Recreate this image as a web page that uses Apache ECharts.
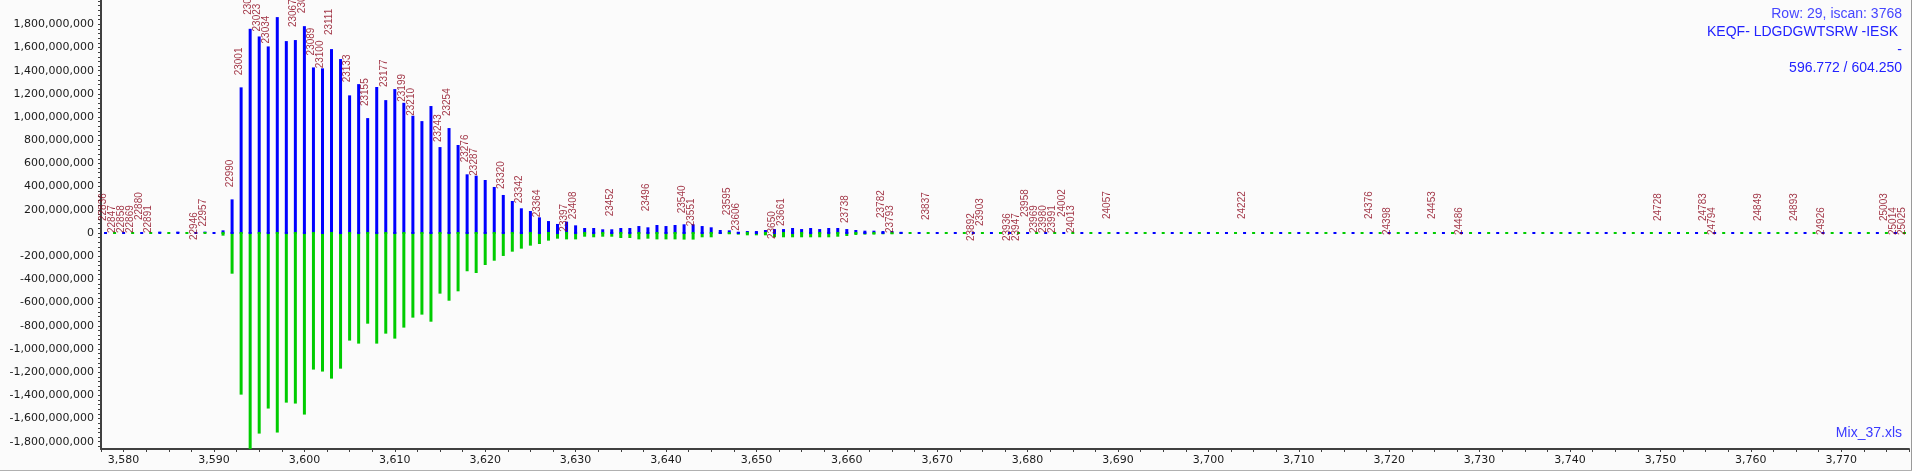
<!DOCTYPE html>
<html>
<head>
<meta charset="utf-8">
<script src="https://cdn.jsdelivr.net/npm/echarts@6/dist/echarts.min.js"></script>
<style>
html,body{margin:0;padding:0;background:#fbfbfb;}
#chart{width:1912px;height:471px;}
</style>
</head>
<body>
<div id="chart"></div>
<script>
// ---------------- data (values in millions) ----------------
const xValues = [
  3584,3585,3586,3587,3588,3589,3590,3591,3592,3593,
  3594,3595,3596,3597,3598,3599,3600,3601,3602,3603,
  3604,3605,3606,3607,3608,3609,3610,3611,3612,3613,
  3614,3615,3616,3617,3618,3619,3620,3621,3622,3623,
  3624,3625,3626,3627,3628,3629,3630,3631,3632,3633,
  3634,3635,3636,3637,3638,3639,3640,3641,3642,3643,
  3644,3645,3646,3647,3648,3649,3650,3651,3652,3653,
  3654,3655,3656,3657,3658,3659,3660,3661,3662,3663,
  3664,3665,3666
];
const blueValues = [
  12,0,12,0,0,12,0,23,290,1256,
  1761,1695,1609,1862,1655,1664,1784,1428,1420,1586,
  1500,1187,1284,991,1259,1146,1241,1123,1011,965,
  1095,741,905,759,506,494,457,397,328,276,
  213,190,135,103,78,98,66,43,43,32,
  32,43,43,60,49,69,60,69,75,75,
  60,49,26,23,11,17,17,26,34,34,
  43,34,43,34,43,43,34,26,20,20,
  17,17,10
];
const greenValues = [
  0,0,0,0,0,0,0,-23,-351,-1394,
  -1870,-1730,-1514,-1721,-1463,-1471,-1566,-1178,-1195,-1256,
  -1170,-928,-954,-782,-954,-868,-911,-816,-730,-704,
  -765,-523,-584,-503,-330,-345,-276,-239,-198,-161,
  -135,-109,-95,-66,-49,-55,-55,-32,-37,-32,
  -32,-43,-43,-55,-49,-55,-55,-55,-57,-57,
  -37,-37,-9,-11,-14,-20,-20,-20,-37,-37,
  -37,-37,-37,-37,-37,-32,-26,-17,-14,-14,
  -11,-11,-9
];
const peakLabels = [
  [3578,'22836'],[3579,'22847'],[3580,'22858'],[3581,'22869'],[3582,'22880'],[3583,'22891'],
  [3588,'22946'],[3589,'22957'],[3592,'22990'],[3593,'23001'],[3594,'23012'],[3595,'23023'],
  [3596,'23034'],[3599,'23067'],[3600,'23078'],[3601,'23089'],[3602,'23100'],[3603,'23111'],
  [3605,'23133'],[3607,'23155'],[3609,'23177'],[3611,'23199'],[3612,'23210'],[3615,'23243'],
  [3616,'23254'],[3618,'23276'],[3619,'23287'],[3622,'23320'],[3624,'23342'],[3626,'23364'],
  [3629,'23397'],[3630,'23408'],[3634,'23452'],[3638,'23496'],[3642,'23540'],[3643,'23551'],
  [3647,'23595'],[3648,'23606'],[3652,'23650'],[3653,'23661'],[3660,'23738'],[3664,'23782'],
  [3665,'23793'],[3669,'23837'],[3674,'23892'],[3675,'23903'],[3678,'23936'],[3679,'23947'],
  [3680,'23958'],[3681,'23969'],[3682,'23980'],[3683,'23991'],[3684,'24002'],[3685,'24013'],
  [3689,'24057'],[3704,'24222'],[3718,'24376'],[3720,'24398'],[3725,'24453'],[3728,'24486'],
  [3750,'24728'],[3755,'24783'],[3756,'24794'],[3761,'24849'],[3765,'24893'],[3768,'24926'],
  [3775,'25003'],[3776,'25014'],[3777,'25025']
];
const xTickLabels = [3580,3590,3600,3610,3620,3630,3640,3650,3660,3670,3680,3690,3700,3710,3720,3730,3740,3750,3760,3770];
const yTickLabels = [-1800e6,-1600e6,-1400e6,-1200e6,-1000e6,-800e6,-600e6,-400e6,-200e6,0,
  200e6,400e6,600e6,800e6,1000e6,1200e6,1400e6,1600e6,1800e6];
const infoLines = ['Row: 29, iscan: 3768', 'KEQF- LDGDGWTSRW -IESK ', '-', '596.772 / 604.250'];
const fileName = 'Mix_37.xls';

// ---------------- layout ----------------
const MILLION = 1e6;
const Y_MIN = -1.8629e9, Y_MAX = 2.0095e9;
const X_MIN = 3577.5, X_MAX = 3777.5;
const GRID = {left: 101, right: 3, top: 0, bottom: 22};
const pxPerUnit = (1912 - GRID.left - GRID.right) / (X_MAX - X_MIN);
const dashLen = 3, period = 2 * pxPerUnit;
const firstDash = (3578 - X_MIN) * pxPerUnit - dashLen / 2;
// label gap (px between bar top and label start), per label
const LABEL_GAP = {'22836':12,'22847':0,'22858':0,'22869':0,'22880':13,'22891':0,'22946':-7,'22957':5,
  '22990':12,'23001':12,'23012':14,'23023':5,'23034':3,'23067':13,'23078':13,'23089':12,'23100':0,
  '23111':14,'23133':13,'23155':12,'23177':13,'23199':1,'23210':0,'23243':5,'23254':12,'23276':12,
  '23287':0,'23320':6,'23342':5,'23364':0,'23397':-10,'23408':6,'23452':13,'23496':16,'23540':11,
  '23551':-2,'23595':15,'23606':1,'23650':-10,'23661':3,'23738':6,'23782':13,'23793':-2,'23837':13,
  '23892':-8,'23903':7,'23936':-8,'23947':-8,'23958':16,'23969':0,'23980':0,'23991':0,'24002':16,
  '24013':0,'24057':14,'24222':14,'24376':14,'24398':-2,'24453':14,'24486':-2,'24728':12,'24783':12,
  '24794':-2,'24849':12,'24893':12,'24926':-2,'25003':12,'25014':-2,'25025':-2};

const yMinorTicks = [];
for (let v = -1840e6; v <= 2000e6; v += 40e6) yMinorTicks.push(v);

function blueAt(x) {
  const i = xValues.indexOf(x);
  return i >= 0 ? Math.max(blueValues[i], 0) * MILLION : 0;
}

const axisColor = '#404040';
const chart = echarts.init(document.getElementById('chart'), null, {renderer: 'canvas'});
chart.setOption({
  animation: false,
  backgroundColor: '#fbfbfb',
  grid: GRID,
  xAxis: {
    type: 'value', min: X_MIN, max: X_MAX, interval: 2.5,
    splitLine: {show: false},
    axisLine: {onZero: false, lineStyle: {color: axisColor, width: 2}},
    axisTick: {length: 3, lineStyle: {color: axisColor}},
    axisLabel: {
      margin: 6, fontSize: 11, fontFamily: 'DejaVu Sans', color: '#1a1a1a',
      formatter: v => xTickLabels.indexOf(Math.round(v * 10) / 10) >= 0 ? Math.round(v).toLocaleString('en-US') : ''
    }
  },
  yAxis: {
    type: 'value', min: Y_MIN, max: Y_MAX,
    splitLine: {show: false},
    axisLine: {onZero: false, lineStyle: {color: axisColor, width: 2}},
    axisTick: {length: 3, lineStyle: {color: axisColor}, customValues: yMinorTicks},
    axisLabel: {
      customValues: yTickLabels, margin: 7, fontSize: 11, fontFamily: 'DejaVu Sans', color: '#1a1a1a',
      formatter: v => Math.round(v).toLocaleString('en-US')
    }
  },
  series: [
    {
      type: 'bar', name: 'blue', barWidth: 3, barGap: '-100%',
      itemStyle: {color: '#0000ff'},
      data: xValues.map((x, i) => [x, blueValues[i] * MILLION]),
      markLine: {
        silent: true, symbol: ['none', 'none'], label: {show: false},
        lineStyle: {color: '#0000ff', width: 2, type: [dashLen, period - dashLen], dashOffset: period - firstDash},
        data: [{yAxis: 0}]
      }
    },
    {
      type: 'bar', name: 'green', barWidth: 3, barGap: '-100%',
      itemStyle: {color: '#00cc00'},
      data: xValues.map((x, i) => [x, greenValues[i] * MILLION]),
      markLine: {
        silent: true, symbol: ['none', 'none'], label: {show: false},
        lineStyle: {color: '#00cc00', width: 2, type: [dashLen, period - dashLen], dashOffset: period - firstDash - pxPerUnit},
        data: [{yAxis: 0}]
      }
    },
    {
      type: 'scatter', silent: true, symbol: 'rect', symbolSize: 1, z: 5,
      itemStyle: {color: 'rgba(0,0,0,0)'},
      label: {
        show: true, formatter: '{b}', rotate: 90, align: 'left', verticalAlign: 'middle',
        fontSize: 10, fontFamily: 'Liberation Sans', color: '#8a0016'
      },
      data: peakLabels.map(([x, t]) => ({
        name: t, value: [x, blueAt(x)],
        label: {position: [-1.5, 0.5 - LABEL_GAP[t]]}
      }))
    }
  ],
  graphic: {elements: [
    ...infoLines.map((t, i) => ({
      type: 'text', silent: true,
      style: {text: t, x: 1902, y: 14 + i * 18, textAlign: 'right', textVerticalAlign: 'middle',
        font: '14px "Liberation Sans"', fill: i === 0 ? '#4646ff' : '#2222ff'}
    })),
    {type: 'text', silent: true,
      style: {text: fileName, x: 1902, y: 433, textAlign: 'right', textVerticalAlign: 'middle',
        font: '14px "Liberation Sans"', fill: '#3a3aff'}},
    {type: 'line', silent: true, shape: {x1: 1911.5, y1: 0, x2: 1911.5, y2: 471}, style: {stroke: '#9a9a9a', lineWidth: 1}},
    {type: 'line', silent: true, shape: {x1: 0, y1: 470.5, x2: 1912, y2: 470.5}, style: {stroke: '#b0b0b0', lineWidth: 1}}
  ]}
});
</script>
</body>
</html>
